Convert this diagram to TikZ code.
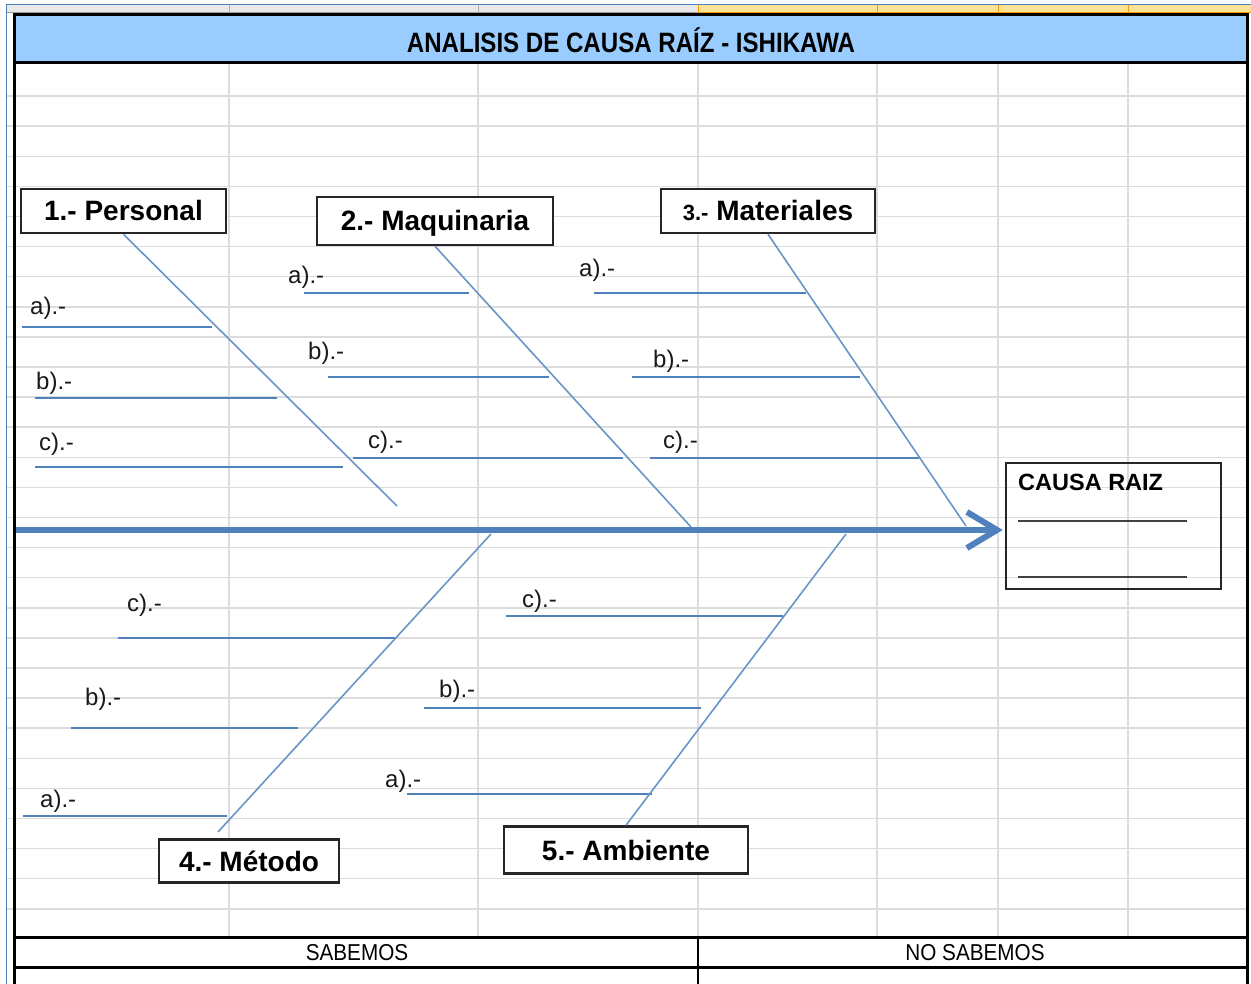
\documentclass[tikz,border=0pt]{standalone}
\usepackage{fontspec}
\setmainfont{Liberation Sans}
\newfontfamily\titlefont[FakeStretch=0.86]{Liberation Sans}
\newfontfamily\cellfont[FakeStretch=0.9]{Liberation Sans}
\usetikzlibrary{arrows.meta}
\definecolor{headblue}{RGB}{153,204,255}
\definecolor{boneblue}{RGB}{79,129,189}
\definecolor{gridgray}{RGB}{220,220,220}
\definecolor{stripgray}{RGB}{232,232,232}
\definecolor{stripyellow}{RGB}{250,226,150}
\tikzset{
	catbox/.style={draw=black!85, line width=2.5pt, fill=white, inner sep=0pt,
		font=\fontsize{28}{30}\selectfont\bfseries, text height=20pt, text depth=0pt},
	rootbox/.style={draw=black!85, line width=2.5pt, inner sep=0pt},
	sublabel/.style={anchor=base west, inner sep=0pt, text=black!90, font=\fontsize{24}{26}\selectfont},
	subline/.style={boneblue, line width=2.5pt},
	bone/.style={boneblue!85, line width=1.6pt},
	spine/.style={boneblue, line width=6pt, -{Straight Barb[length=30pt,width=36pt]}},
	frame/.style={black, line width=3pt},
	gridline/.style={gridgray, line width=1.5pt},
}
\begin{document}
\begin{tikzpicture}[x=1pt,y=-1pt]
	\useasboundingbox (0,0) rectangle (1251,984);
	% Sheet strip
	\draw[boneblue, line width=1pt] (6.5,984) -- (6.5,5) -- (1251,5);
	\fill[stripgray] (7,5.5) rectangle (698,13);
	\fill[stripyellow] (698,5.5) rectangle (1251,13);
	\draw[gridgray!70!black, line width=1pt] (7,13) -- (698,13);
	\draw[orange!80!yellow, line width=1pt] (698,13) -- (1251,13);
	\foreach \x in {229,478} \draw[gridgray!80!black, line width=1pt] (\x,5.5) -- (\x,13);
	\foreach \x in {698,877,998,1128} \draw[orange!80!yellow, line width=1pt] (\x,5.5) -- (\x,13);
	% Grid
	\foreach \k in {1,...,28} \draw[gridline] (7,66+30.1*\k) -- (1247,66+30.1*\k);
	\foreach \x in {229,478,698,877,998,1128} \draw[gridline] (\x,63) -- (\x,937);
	% Header
	\fill[headblue] (14,15) rectangle (1247,63);
	\node[font=\fontsize{28}{30}\titlefont\bfseries] (title) at (631,40) {ANALISIS DE CAUSA RAÍZ - ISHIKAWA};
	% Frame
	\draw[frame] (14,984) -- (14,15) -- (1247,15) -- (1247,984);
	\draw[frame] (14,63) -- (1247,63);
	\draw[frame] (14,937) -- (1247,937);
	\draw[frame] (14,967) -- (1247,967);
	\draw[frame, line width=2pt] (698,937) -- (698,984);
	\node[font=\fontsize{23}{25}\cellfont] (sabemos) at (357,953) {SABEMOS};
	\node[font=\fontsize{23}{25}\cellfont] (nosabemos) at (975,953) {NO SABEMOS};
	% Causa raiz
	\node[rootbox, minimum width=215pt, minimum height=126pt] (raiz) at (1113.5,526) {};
	\node[anchor=base west, inner sep=0pt, font=\fontsize{23.5}{25}\selectfont\bfseries] (raiztitle) at (1018,490) {CAUSA RAIZ};
	\draw[black!75, line width=2.5pt] (1018,521) -- (1187,521);
	\draw[black!75, line width=2.5pt] (1018,577) -- (1187,577);
	% Sub causes
	\foreach \lx/\ly/\xa/\xb/\yl/\lt [count=\i] in {
		30/315/22/212/327/a, 36/389/35/277/398/b, 39/450/35/343/467/c,
		288/284/304/469/293/a, 308/360/328/549/377/b, 368/448/353/623/458/c,
		579/277/594/806/293/a, 653/368/632/860/377/b, 663/448/650/919/458/c,
		127/611/118/395/638/c, 85/705/71/298/728/b, 40/807/23/227/816/a,
		522/607/506/783/616/c, 439/697/424/701/708/b, 385/787/407/652/794/a}{
		\node[sublabel] (sub\i) at (\lx,\ly) {\lt).-};
		\draw[subline] (\xa,\yl) -- (\xb,\yl);
	}
	% Categories
	\node[catbox, minimum width=205pt, minimum height=44pt] (personal) at (123.5,211) {1.- Personal};
	\node[catbox, minimum width=236pt, minimum height=48pt] (maquinaria) at (435,221) {2.- Maquinaria};
	\node[catbox, minimum width=214pt, minimum height=44pt] (materiales) at (768,211) {{\fontsize{22}{24}\selectfont 3.-} Materiales};
	\node[catbox, minimum width=180pt, minimum height=43pt] (metodo) at (249,861) {4.- Método};
	\node[catbox, minimum width=244pt, minimum height=47pt] (ambiente) at (626,850) {5.- Ambiente};
	% Bones
	\coordinate (pend) at (397,506);
	\coordinate (qend) at (691,527);
	\coordinate (tend) at (966,526);
	\coordinate (mlow) at (218,832);
	\coordinate (mend) at (491,534);
	\coordinate (aend) at (846,534);
	\draw[bone] (personal.south) -- (pend);
	\draw[bone] (maquinaria.south) -- (qend);
	\draw[bone] (materiales.south) -- (tend);
	\draw[bone] (mlow) -- (mend);
	\draw[bone] (ambiente.north) -- (aend);
	% Spine
	\coordinate (tail) at (16,530);
	\draw[spine, shorten >=2pt] (tail) -- (raiz.west |- tail);
\end{tikzpicture}
\end{document}
